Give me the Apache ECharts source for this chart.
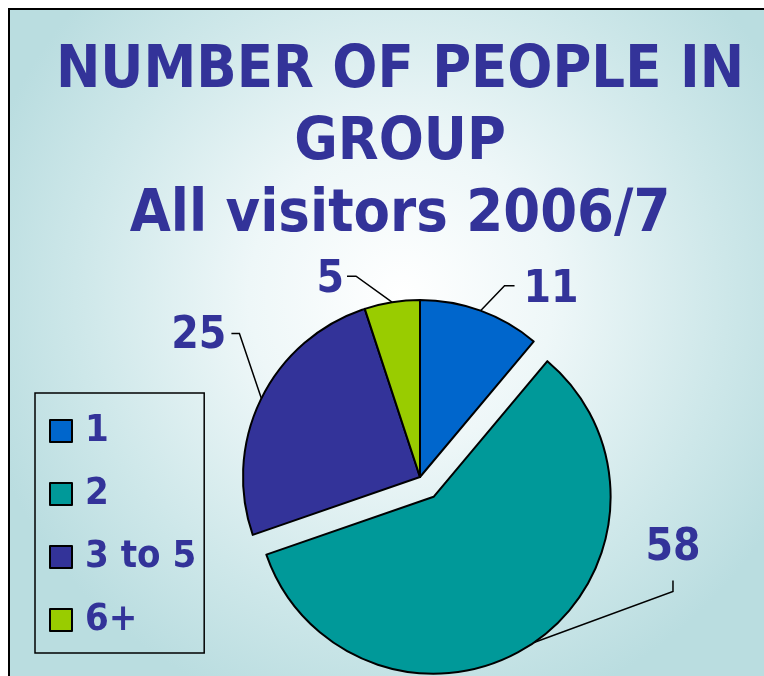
<!DOCTYPE html>
<html>
<head>
<meta charset="utf-8">
<title>Number of people in group</title>
<script src="https://cdn.jsdelivr.net/npm/echarts@6/dist/echarts.min.js"></script>
<style>
  html, body { margin: 0; padding: 0; background: #ffffff; }
  #chart { width: 764px; height: 676px; }
</style>
</head>
<body>
<div id="chart"></div>
<script>
// Group sizes and share of all visitors
const categories = ['1', '2', '3 to 5', '6+'];
const values = [11, 58, 25, 5];
const sliceColors = ['#0066CC', '#009999', '#333399', '#99CC00'];
const titleLines = ['NUMBER OF PEOPLE IN', 'GROUP', 'All visitors 2006/7'];
const explodedIndex = 1;

// Leader line shape for each slice, relative to where its line leaves the rim:
// elbow point, end point, label anchor and alignment.
const leaders = [
  { elbow: [24, -25], end: [34, -25], label: [43, -20], align: 'left' },
  { elbow: [139, -51], end: [139, -62], label: [139, -94], align: 'center' },
  { elbow: [-22, -65], end: [-30, -65], label: [-35, -62], align: 'right' },
  { elbow: [-36, -26], end: [-45, -26], label: [-48, -22], align: 'right' }
];

const ink = '#333399';
const fontFamily = '"DejaVu Sans Condensed", "DejaVu Sans", Verdana, sans-serif';
const pieCenter = [420, 477];
const pieRadius = 177;
const explodeDistance = 24;

// Direction of the exploded slice's bisector (start at 12 o'clock, clockwise)
const total = values.reduce(function (a, b) { return a + b; }, 0);
const before = values.slice(0, explodedIndex).reduce(function (a, b) { return a + b; }, 0);
const midFraction = (before + values[explodedIndex] / 2) / total;
const midRad = (90 - midFraction * 360) * Math.PI / 180;
const explodedCenter = [
  pieCenter[0] + Math.cos(midRad) * explodeDistance,
  pieCenter[1] - Math.sin(midRad) * explodeDistance
];

const labelStyle = {
  show: true,
  position: 'outside',
  formatter: '{c}',
  color: ink,
  fontFamily: fontFamily,
  fontWeight: 'bold',
  fontSize: 44
};

function leaderLayout(params) {
  const ld = leaders[params.dataIndex];
  const pts = params.labelLinePoints;
  if (!ld || !pts) return {};
  const s = pts[0];
  return {
    x: s[0] + ld.label[0],
    y: s[1] + ld.label[1],
    align: ld.align,
    verticalAlign: 'middle',
    labelLinePoints: [
      [s[0], s[1]],
      [s[0] + ld.elbow[0], s[1] + ld.elbow[1]],
      [s[0] + ld.end[0], s[1] + ld.end[1]]
    ]
  };
}

// keep: true -> slice drawn in this ring; false -> empty gap holding its angle
function sliceData(keep) {
  return categories.map(function (name, i) {
    const shown = keep(i);
    return {
      name: name,
      value: values[i],
      itemStyle: shown
        ? { color: sliceColors[i], borderColor: '#000000', borderWidth: 2 }
        : { color: 'rgba(0,0,0,0)', borderWidth: 0 },
      label: { show: shown },
      labelLine: { show: shown }
    };
  });
}

const pieCommon = {
  type: 'pie',
  radius: pieRadius,
  startAngle: 90,
  clockwise: true,
  silent: true,
  emphasis: { disabled: true },
  label: labelStyle,
  labelLine: {
    show: true,
    length: 20,
    length2: 10,
    lineStyle: { color: '#000000', width: 1.5 }
  },
  labelLayout: leaderLayout
};

const chart = echarts.init(document.getElementById('chart'), null, { renderer: 'canvas' });

chart.setOption({
  animation: false,
  graphic: [{
    type: 'rect',
    z: -10,
    silent: true,
    shape: { x: 9, y: 9, width: 800, height: 700 },
    style: {
      fill: {
        type: 'radial', x: 0.49, y: 0.41, r: 0.62,
        colorStops: [
          { offset: 0, color: '#FFFFFF' },
          { offset: 0.35, color: '#EEF7F8' },
          { offset: 0.75, color: '#CDE7E9' },
          { offset: 1, color: '#BADDE0' }
        ]
      },
      stroke: '#000000',
      lineWidth: 2
    }
  }],
  title: {
    text: titleLines.join('\n'),
    left: 395,
    textAlign: 'center',
    top: 31,
    textStyle: {
      color: ink,
      fontFamily: fontFamily,
      fontWeight: 'bold',
      fontSize: 59,
      lineHeight: 72
    }
  },
  legend: {
    orient: 'vertical',
    left: 35,
    top: 393,
    padding: [18, 8, 13, 14],
    itemGap: 23,
    itemWidth: 22,
    itemHeight: 22,
    borderColor: '#000000',
    borderWidth: 1.5,
    icon: 'rect',
    selectedMode: false,
    data: categories.map(function (name, i) {
      return {
        name: name,
        itemStyle: { color: sliceColors[i], borderColor: '#000000', borderWidth: 2 }
      };
    }),
    textStyle: {
      color: ink,
      fontFamily: fontFamily,
      fontWeight: 'bold',
      fontSize: 38,
      lineHeight: 40,
      padding: [0, 0, 0, 8]
    }
  },
  series: [
    Object.assign({}, pieCommon, {
      name: 'group',
      center: pieCenter,
      data: sliceData(function (i) { return i !== explodedIndex; })
    }),
    Object.assign({}, pieCommon, {
      name: 'group (pulled out)',
      center: explodedCenter,
      data: sliceData(function (i) { return i === explodedIndex; })
    })
  ]
});
</script>
</body>
</html>
